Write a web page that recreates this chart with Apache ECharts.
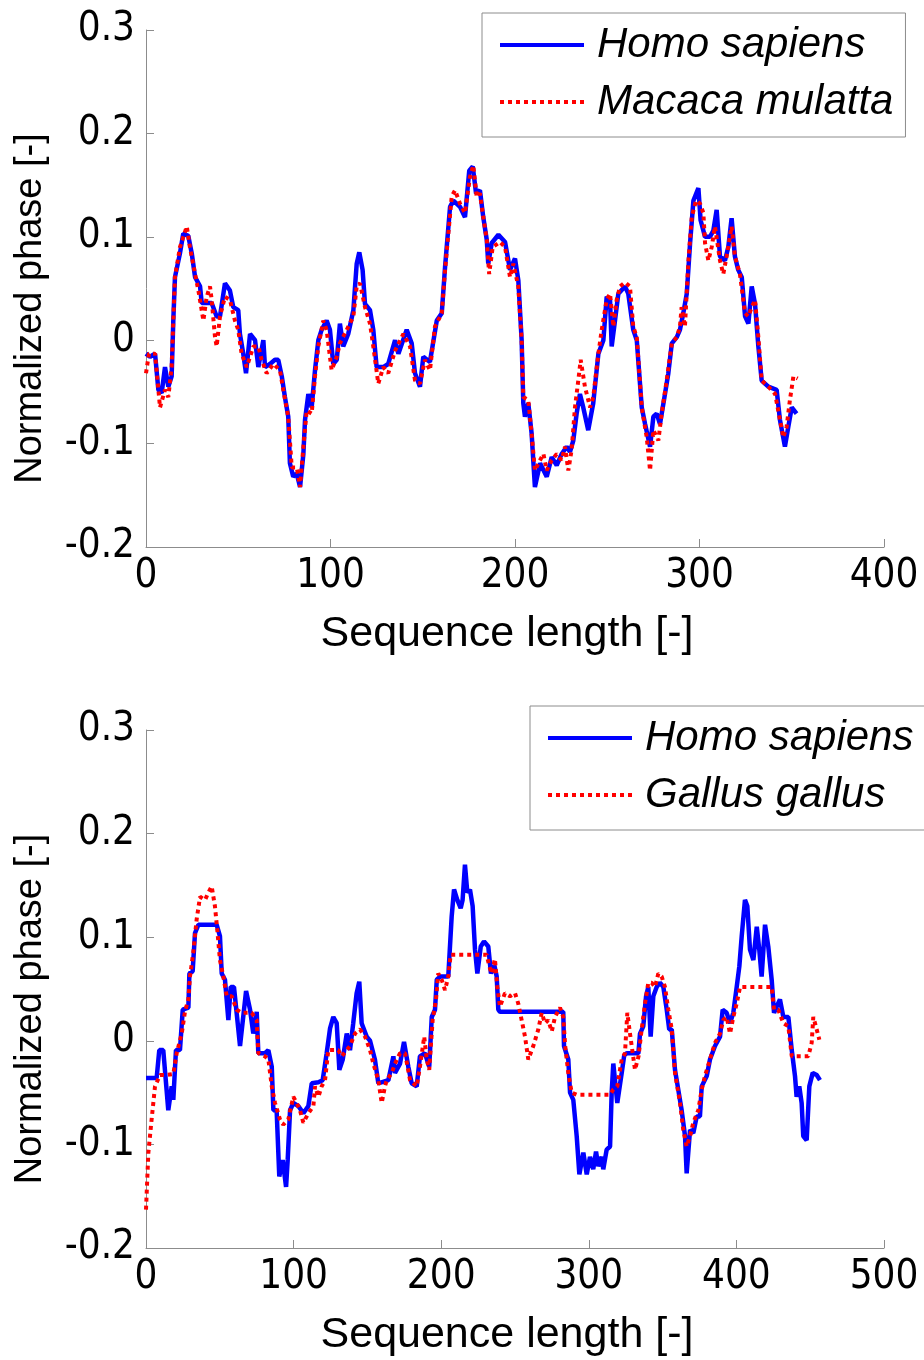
<!DOCTYPE html>
<html>
<head>
<meta charset="utf-8">
<script src="https://cdn.jsdelivr.net/npm/echarts@6/dist/echarts.min.js"></script>
<style>
html,body{margin:0;padding:0;background:#fff;}
#chart{width:924px;height:1360px;}
</style>
</head>
<body>
<div id="chart"></div>
<script>
// ---- data (x = sequence position, y = normalized phase) ----
const topXTicks = [0, 100, 200, 300, 400];
const bottomXTicks = [0, 100, 200, 300, 400, 500];
const yTicks = [-0.2, -0.1, 0, 0.1, 0.2, 0.3];

const legendTop = ['Homo sapiens', 'Macaca mulatta'];
const legendBottom = ['Homo sapiens', 'Gallus gallus'];

const topHuman = [[0,-0.013],[2.2,-0.016],[4.9,-0.013],[6.7,-0.048],[8.5,-0.051],[10.3,-0.026],[12.1,-0.045],[13.9,-0.035],[14.8,0.019],[15.7,0.061],[18.4,0.084],[20.2,0.103],[22.9,0.101],[24.8,0.084],[26.6,0.061],[29.3,0.052],[30.2,0.036],[35.6,0.036],[38.3,0.023],[40.1,0.023],[42.8,0.055],[45.5,0.048],[47.3,0.032],[50,0.029],[50.9,0.006],[52.7,-0.013],[54.2,-0.032],[56.4,0.006],[59.1,0],[60.9,-0.026],[63.6,0],[64.5,-0.026],[67.2,-0.023],[69.9,-0.019],[71.7,-0.019],[73.6,-0.035],[75.3,-0.055],[77.1,-0.074],[78,-0.119],[79.8,-0.132],[81.7,-0.129],[83.5,-0.142],[85.3,-0.110],[86.2,-0.077],[88,-0.052],[89.8,-0.065],[91.6,-0.029],[93.4,0],[95.2,0.010],[97.9,0.019],[99.7,0.010],[101.5,-0.023],[103.4,-0.019],[105.1,0.016],[106.9,-0.006],[109.6,0.006],[112.4,0.029],[114.2,0.074],[115.6,0.085],[117.4,0.068],[118.7,0.035],[121.4,0.029],[123.2,0.010],[125,-0.026],[128.6,-0.026],[131.3,-0.023],[135,0],[136.8,-0.013],[141.3,0.010],[144,-0.003],[145.8,-0.032],[148.5,-0.045],[150.3,-0.016],[153.9,-0.021],[157.6,0.019],[160.3,0.026],[162.1,0.071],[164.8,0.129],[166.6,0.135],[170.2,0.129],[172.9,0.119],[175.2,0.164],[177.1,0.168],[178.9,0.142],[181,0.145],[182.8,0.119],[184.7,0.097],[185.5,0.074],[187.4,0.094],[191,0.102],[194.6,0.095],[197.3,0.068],[200,0.079],[201.8,0.058],[203.6,0],[204.5,-0.061],[205.4,-0.074],[207.2,-0.061],[209,-0.090],[210.8,-0.142],[213.6,-0.119],[217.2,-0.132],[219.9,-0.113],[222.6,-0.121],[225.3,-0.110],[228,-0.103],[229.8,-0.108],[231.6,-0.097],[233.4,-0.071],[235.2,-0.052],[237,-0.065],[239.7,-0.087],[242.4,-0.061],[245.2,-0.013],[247.9,0],[249.7,0.042],[251.5,0.039],[252.4,-0.006],[254.2,0.019],[256,0.045],[259.6,0.052],[261.4,0.045],[264.1,0.010],[266,0],[268.7,-0.065],[270.5,-0.081],[273.2,-0.103],[275,-0.074],[276.8,-0.071],[278.6,-0.081],[281.3,-0.052],[283.1,-0.032],[285,-0.003],[287.7,0.003],[289.4,0.010],[291.2,0.026],[293.1,0.045],[294.9,0.094],[296.7,0.135],[299.4,0.147],[300.6,0.116],[303,0.100],[305.7,0.100],[307.5,0.106],[309.3,0.126],[311.1,0.081],[313.8,0.077],[315.6,0.090],[317.4,0.118],[319.2,0.081],[321,0.068],[322.9,0.061],[324.7,0.023],[326.5,0.016],[328.3,0.052],[330.1,0.035],[331.9,-0.006],[333.7,-0.039],[337.3,-0.045],[341.8,-0.048],[343.6,-0.077],[346.3,-0.103],[348.1,-0.084],[350,-0.065],[352.6,-0.071]];

const topMacaca = [[0,-0.032],[1.6,-0.013],[4.9,-0.013],[7.6,-0.065],[10.3,-0.048],[12.1,-0.055],[13.9,-0.026],[14.8,0.019],[15.7,0.061],[18.4,0.090],[22.1,0.110],[23.8,0.090],[26.6,0.064],[28.4,0.048],[31.1,0.019],[32.9,0.042],[34.7,0.052],[35.6,0.039],[37.4,0.003],[38.3,-0.006],[40.1,0.023],[42.8,0.042],[45.5,0.039],[48.2,0.019],[50,0.010],[51.8,-0.013],[54.6,-0.026],[58.2,-0.006],[60.9,-0.006],[62.7,-0.019],[65.4,-0.032],[69,-0.023],[72.6,-0.029],[74.4,-0.048],[77.1,-0.074],[79,-0.123],[81.7,-0.123],[83.5,-0.142],[85.3,-0.103],[87.1,-0.068],[89.8,-0.071],[91.6,-0.035],[93.4,-0.006],[96.1,0.019],[97.9,0.010],[100.6,-0.029],[103.4,-0.016],[105.1,-0.003],[108.8,0.010],[112.4,0.023],[114.2,0.052],[116,0.055],[118.7,0.032],[121.4,0.016],[123.2,-0.006],[125.9,-0.042],[128.6,-0.026],[131.3,-0.032],[135,-0.010],[139.5,0.006],[143.1,-0.006],[145.8,-0.039],[148.5,-0.042],[151.2,-0.019],[153.9,-0.029],[156.6,0.013],[160.3,0.026],[162.1,0.068],[165.7,0.139],[167.5,0.145],[170.2,0.132],[172.9,0.123],[175.6,0.158],[177.4,0.169],[179.2,0.139],[181,0.142],[182.8,0.119],[184.7,0.097],[186,0.064],[187.9,0.090],[191.9,0.095],[194.6,0.090],[197.3,0.061],[199.1,0.074],[201.8,0.052],[203.6,0],[204.5,-0.055],[207.2,-0.058],[209,-0.090],[210.8,-0.126],[212.7,-0.119],[215.4,-0.110],[217.2,-0.126],[219.9,-0.116],[222.6,-0.110],[225.3,-0.116],[227.1,-0.103],[228.9,-0.126],[230.7,-0.106],[232.5,-0.065],[234.3,-0.039],[235.6,-0.019],[237.9,-0.045],[240.7,-0.065],[242.4,-0.055],[245.2,-0.013],[247,0.010],[249.7,0.039],[251.5,0.045],[253.3,0.013],[255.1,0.039],[256.9,0.052],[259.6,0.056],[262.3,0.052],[264.1,0.013],[266,0.003],[268.7,-0.065],[271.4,-0.094],[273.2,-0.126],[275,-0.087],[277.7,-0.097],[279.5,-0.071],[282.2,-0.039],[285,-0.003],[287.7,0.003],[289.4,0.013],[290.3,0.032],[292.1,0.013],[294,0.077],[295.8,0.119],[298.1,0.135],[300.3,0.132],[302.1,0.123],[303,0.094],[304.8,0.077],[306.6,0.090],[308.4,0.110],[311.1,0.077],[312.9,0.064],[314.7,0.081],[317.4,0.110],[319.2,0.081],[321.9,0.064],[324.7,0.026],[326.5,0.023],[328.3,0.032],[330.1,0.039],[331.9,0.003],[333.7,-0.039],[337.3,-0.045],[341,-0.052],[343.6,-0.077],[345.4,-0.094],[347.2,-0.084],[349,-0.058],[350.9,-0.035],[353.2,-0.037]];

const bottomHuman = [[0,-0.036],[7.2,-0.036],[9,-0.009],[11.7,-0.009],[15.1,-0.067],[17.4,-0.044],[18.5,-0.057],[20.3,-0.009],[23,-0.009],[24.9,0.030],[28.7,0.032],[29.4,0.065],[31.6,0.067],[33.2,0.104],[35.5,0.112],[47.9,0.112],[50.1,0.101],[51.3,0.065],[53.5,0.059],[55.8,0.020],[57.4,0.052],[59.6,0.052],[61.4,0.027],[63.7,-0.005],[67.8,0.048],[70.5,0.030],[72.7,0.007],[75,0.028],[76.1,-0.012],[80.6,-0.012],[82.9,-0.009],[85.2,-0.025],[86.3,-0.067],[88.5,-0.067],[90.3,-0.131],[92.6,-0.115],[94.9,-0.141],[96,-0.115],[97.6,-0.067],[99.8,-0.060],[103.2,-0.063],[106.6,-0.070],[110,-0.063],[112.3,-0.041],[116.8,-0.040],[119.7,-0.038],[122.4,-0.012],[124.7,0.012],[126.9,0.023],[129.2,0.017],[131,-0.028],[133.3,-0.018],[136,0.007],[138.2,-0.009],[140.4,0.017],[142.7,0.046],[144.5,0.057],[146.1,0.017],[149.5,0.004],[151.8,0],[155.1,-0.018],[157.4,-0.041],[164.2,-0.038],[167.6,-0.015],[168.7,-0.031],[172.1,-0.022],[174.8,-0.001],[177.7,-0.025],[180,-0.041],[183.4,-0.044],[185.6,-0.015],[189,-0.012],[191.9,-0.025],[193.6,0.023],[195.8,0.030],[197,0.059],[199.2,0.062],[204.8,0.062],[207.1,0.120],[208.7,0.146],[210.9,0.136],[213.2,0.128],[214.5,0.136],[216.1,0.170],[217.7,0.143],[219.5,0.146],[221.3,0.130],[222.9,0.088],[224.5,0.065],[226.8,0.091],[229,0.096],[231.9,0.091],[233.7,0.065],[236,0.073],[237.6,0.062],[238.7,0.030],[239.8,0.028],[282.7,0.028],[283.2,-0.005],[286.1,-0.018],[287.3,-0.050],[289.5,-0.057],[291.8,-0.092],[293.6,-0.129],[296.3,-0.108],[298.6,-0.129],[300.8,-0.112],[303,-0.124],[304.9,-0.107],[306.4,-0.121],[308.7,-0.112],[309.8,-0.124],[312.1,-0.105],[314.4,-0.102],[315.5,-0.050],[316.6,-0.022],[319.3,-0.060],[322.3,-0.031],[324,-0.014],[325.7,-0.012],[333.6,-0.012],[334.7,0.007],[336.9,0.014],[338.8,0.043],[340.3,0.052],[341.9,0.004],[343.7,0.043],[346,0.052],[348.2,0.056],[350.5,0.052],[352.8,0.030],[354.5,0.011],[356.2,0.011],[358.4,-0.028],[360.6,-0.047],[362.9,-0.067],[365.2,-0.092],[366.3,-0.128],[368.6,-0.086],[370.8,-0.089],[373.1,-0.073],[375.3,-0.073],[376.5,-0.044],[379.9,-0.034],[382.1,-0.018],[385.5,-0.005],[388.9,0.004],[390.7,0.030],[393.4,0.027],[395.7,0.017],[397.9,0.027],[400.2,0.052],[402,0.072],[403.6,0.101],[405.8,0.136],[407.4,0.130],[409.2,0.088],[411.5,0.078],[413.8,0.110],[415.5,0.088],[417.1,0.062],[419.4,0.112],[421.6,0.091],[423.9,0.059],[425.5,0.027],[427.3,0.033],[429.5,0.040],[431.8,0.023],[435.2,0.023],[437.5,-0.009],[439.7,-0.034],[440.8,-0.054],[442.6,-0.044],[444.2,-0.060],[445.3,-0.092],[447.6,-0.096],[449.4,-0.044],[451.7,-0.031],[454.4,-0.033],[456.6,-0.038]];

const bottomGallus = [[0,-0.163],[1.6,-0.108],[3.8,-0.076],[6.1,-0.044],[9.5,-0.033],[14,-0.033],[18.5,-0.032],[20.8,-0.012],[24.2,0.007],[26.4,0.028],[28.7,0.040],[29.8,0.062],[32,0.085],[34.3,0.117],[36.6,0.139],[40,0.136],[42.2,0.143],[44.5,0.149],[46.7,0.130],[48.3,0.107],[50.1,0.078],[52.4,0.062],[54.7,0.043],[58.1,0.043],[61.4,0.030],[64.8,0.027],[71.6,0.027],[75,0.020],[76.1,-0.012],[80.6,-0.015],[82.9,-0.018],[85.2,-0.044],[87.4,-0.060],[90.8,-0.076],[93,-0.081],[96.4,-0.076],[99.8,-0.054],[102.1,-0.060],[104.3,-0.067],[106.6,-0.079],[110,-0.070],[113.4,-0.063],[114.5,-0.044],[116.8,-0.054],[119,-0.044],[121.3,-0.038],[123.5,-0.009],[130.3,-0.009],[132.6,-0.015],[136,-0.009],[138.2,-0.005],[141.6,0.007],[145,0.011],[148.4,0.004],[151.8,-0.009],[154,-0.022],[157.4,-0.038],[159.7,-0.060],[161.9,-0.044],[163.1,-0.038],[166.5,-0.031],[168.7,-0.022],[172.1,-0.012],[175.5,-0.012],[178.9,-0.038],[183.4,-0.044],[185.6,-0.025],[188.5,0.004],[190.2,-0.018],[191.9,-0.028],[194.2,0.020],[196.5,0.040],[198,0.065],[200.3,0.059],[202.6,0.049],[204.8,0.062],[206.4,0.083],[230.8,0.083],[232.6,0.072],[234.2,0.065],[236.4,0.079],[238,0.052],[239.8,0.033],[243.2,0.046],[246.6,0.043],[250,0.046],[252.2,0.036],[254.5,0.020],[256.8,0.004],[259,-0.018],[262.4,-0.005],[265.8,0.011],[268.1,0.027],[270.3,0.017],[272.5,0.020],[274.9,0.009],[277.1,0.023],[280.5,0.032],[282.7,0.023],[284,-0.005],[286.1,-0.031],[288.4,-0.050],[291.8,-0.052],[314.4,-0.052],[316.6,-0.047],[319.3,-0.044],[322.3,-0.018],[324.5,-0.012],[326.1,0.027],[327.9,0.007],[331.3,-0.028],[333.7,-0.015],[335.8,0.011],[338.1,0.036],[340.3,0.056],[342.6,0.056],[344.9,0.052],[347.1,0.065],[349.4,0.062],[351.6,0.052],[353.9,0.030],[356.2,0.011],[358.4,-0.031],[361.8,-0.060],[364,-0.086],[366.3,-0.102],[368.6,-0.092],[370.8,-0.079],[374.2,-0.067],[376.5,-0.047],[378.7,-0.034],[382.1,-0.018],[385.5,-0.002],[388.9,0.007],[391.1,0.020],[393.4,0.023],[395.7,0.007],[397.9,0.023],[400.2,0.036],[402.5,0.052],[423.9,0.052],[425.5,0.030],[428.4,0.030],[431.8,0.017],[435.2,0.014],[437.5,-0.015],[448.7,-0.015],[451,-0.002],[452.1,0.023],[454.4,0.011],[456.2,0.001]];

// ---- styling ----
const AXIS_COLOR = '#8c8c8c';
const TICK_FONT = '"Liberation Sans Narrow", "DejaVu Sans Condensed", "Liberation Sans", sans-serif';
const TEXT_FONT = '"Liberation Sans", Arial, Helvetica, sans-serif';

function fmtY(v) { return String(Number(v.toFixed(1))); }

function xAxisCfg(idx, ticks) {
  return {
    gridIndex: idx, type: 'value',
    min: ticks[0], max: ticks[ticks.length - 1], interval: ticks[1] - ticks[0],
    axisLine: { show: true, onZero: false, lineStyle: { color: AXIS_COLOR, width: 1 } },
    axisTick: { show: true, inside: true, length: 8, lineStyle: { color: AXIS_COLOR, width: 1 } },
    splitLine: { show: false },
    axisLabel: { color: '#000', fontSize: 40, fontFamily: TICK_FONT, margin: 10 },
    name: 'Sequence length [-]', nameLocation: 'middle', nameGap: 66,
    nameTextStyle: { color: '#000', fontSize: 43, fontFamily: TEXT_FONT, padding: [0, 16, 0, 0] }
  };
}
function yAxisCfg(idx) {
  return {
    gridIndex: idx, type: 'value',
    min: yTicks[0], max: yTicks[yTicks.length - 1], interval: 0.1,
    axisLine: { show: true, onZero: false, lineStyle: { color: AXIS_COLOR, width: 1 } },
    axisTick: { show: true, inside: true, length: 8, lineStyle: { color: AXIS_COLOR, width: 1 } },
    splitLine: { show: false },
    axisLabel: { color: '#000', fontSize: 40, fontFamily: TICK_FONT, margin: 11, formatter: fmtY },
    name: 'Normalized phase [-]', nameLocation: 'middle', nameGap: 96,
    nameTextStyle: { color: '#000', fontSize: 38, fontFamily: TEXT_FONT, padding: [0, 40, 0, 0] }
  };
}
function legendCfg(names, left, top) {
  return {
    data: names, orient: 'vertical', left: left, top: top,
    padding: [7, 12, 10, 16], itemWidth: 84, itemHeight: 14, itemGap: 7,
    borderColor: AXIS_COLOR, borderWidth: 1, backgroundColor: '#fff', borderRadius: 0,
    itemStyle: { opacity: 0 },
    lineStyle: { width: 4 },
    textStyle: { color: '#000', fontSize: 42, fontStyle: 'italic', fontFamily: TEXT_FONT, lineHeight: 50, padding: [0, 0, 0, 8] }
  };
}
function lineSeries(name, data, idx, color, dotted) {
  return {
    name: name, type: 'line', xAxisIndex: idx, yAxisIndex: idx, data: data,
    symbol: 'none', showSymbol: false, smooth: false,
    itemStyle: { color: color },
    lineStyle: dotted ? { color: color, width: 4, type: [4, 4], cap: 'butt' } : { color: color, width: 4.5 },
    z: dotted ? 3 : 2
  };
}

const chart = echarts.init(document.getElementById('chart'), null, { renderer: 'canvas' });
chart.setOption({
  animation: false,
  backgroundColor: '#fff',
  grid: [
    { left: 146, right: 40, top: 30, height: 517 },
    { left: 146, right: 40, top: 730, height: 518 }
  ],
  xAxis: [xAxisCfg(0, topXTicks), xAxisCfg(1, bottomXTicks)],
  yAxis: [yAxisCfg(0), yAxisCfg(1)],
  legend: [legendCfg(legendTop, 482, 13), legendCfg(legendBottom, 530, 706)],
  series: [
    lineSeries(legendTop[0], topHuman, 0, '#0000ff', false),
    lineSeries(legendTop[1], topMacaca, 0, '#ff0000', true),
    lineSeries(legendBottom[0], bottomHuman, 1, '#0000ff', false),
    lineSeries(legendBottom[1], bottomGallus, 1, '#ff0000', true)
  ]
});
</script>
</body>
</html>
